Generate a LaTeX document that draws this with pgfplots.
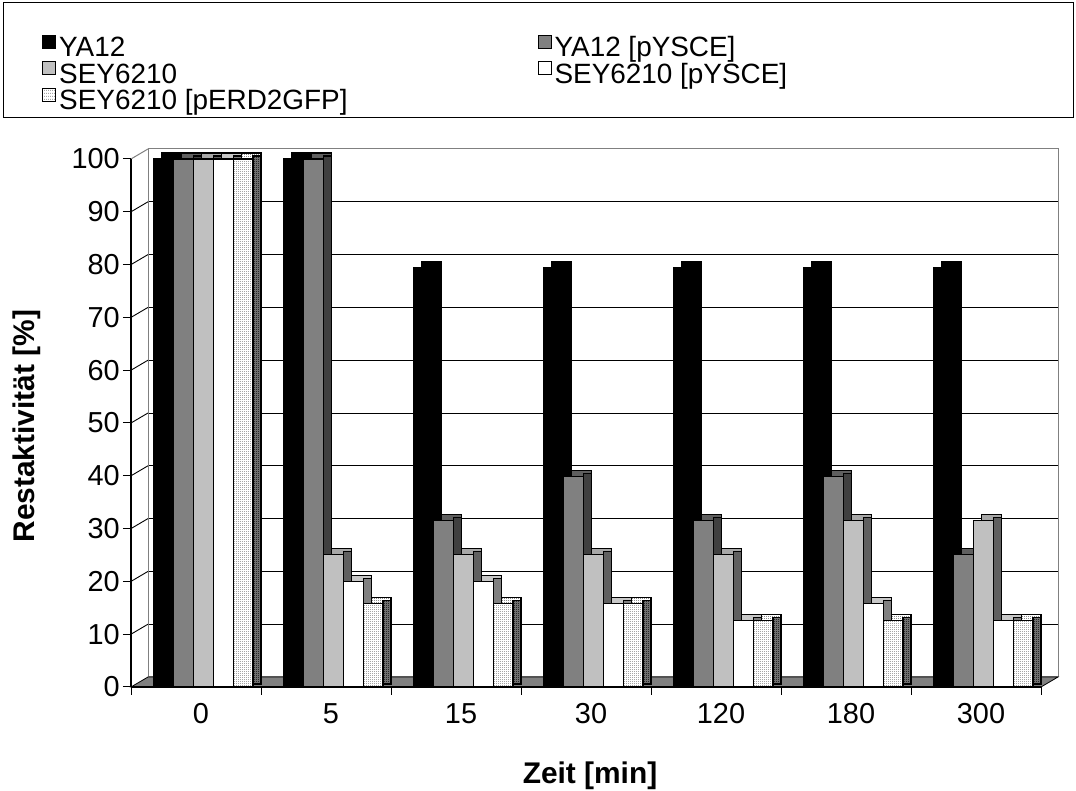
\documentclass[border=0pt]{standalone}
\usepackage{fontspec}
\setmainfont{Liberation Sans}
\usepackage{pgfplots}
\pgfplotsset{compat=1.18}
\usepackage{pgfplotstable}
\usetikzlibrary{patterns}
\definecolor{wallgray}{HTML}{808080}
\definecolor{floorgray}{HTML}{808080}
\definecolor{cBf}{HTML}{808080}
\definecolor{cBt}{HTML}{5F5F5F}
\definecolor{cBs}{HTML}{404040}
\definecolor{cCf}{HTML}{C0C0C0}
\definecolor{cCt}{HTML}{A8A8A8}
\definecolor{cCs}{HTML}{606060}
\definecolor{cDt}{HTML}{C8C8C8}
\definecolor{cDs}{HTML}{808080}
\definecolor{cEs}{HTML}{707070}

\pgfdeclarepatternformonly{finedots}{\pgfqpoint{0bp}{0bp}}{\pgfqpoint{2.4bp}{2.4bp}}{\pgfqpoint{2.4bp}{2.4bp}}{%
  \pgfpathrectangle{\pgfqpoint{0bp}{0bp}}{\pgfqpoint{1.2bp}{1.2bp}}%
  \pgfusepath{fill}}

\pgfplotstableread{
x s1 s2 s3 s4 s5
0 100 100 100 100 100
1 100 100 25.1 20 15.8
2 79.4 31.6 25.1 20 15.8
3 79.4 39.8 25.1 15.8 15.8
4 79.4 31.6 25.1 12.6 12.6
5 79.4 39.8 31.6 15.8 12.6
6 79.4 25.1 31.6 12.6 12.6
}\datatable

\pgfplotsset{
  mylegend/.style={legend image code/.code={\draw[##1,line width=1bp] (0bp,1bp) rectangle (13bp,14bp);}},
  topface/.style={forget plot, bar width=19.8bp, yshift=6bp, draw=black, line width=1.1bp},
  sideface/.style={forget plot, bar width=8bp, yshift=3bp, draw=black, line width=1.1bp},
  frontface/.style={bar width=19.8bp, draw=black, line width=1.1bp, mylegend},
}

\begin{document}
\begin{tikzpicture}[x=1bp,y=1bp]
\useasboundingbox (0,0) rectangle (1076,791);
\coordinate (B) at (148,114);
\coordinate (F) at (131,104);
% legend frame
\draw[line width=1bp] (3,673) rectangle (1073,788);
% back wall
\begin{axis}[at={(B)}, anchor=south west, scale only axis,
  width=910bp, height=528bp, xmin=-0.5, xmax=6.5, ymin=0, ymax=100,
  xtick=\empty, ytick={10,20,...,90}, yticklabels={}, major tick length=0pt,
  ymajorgrids, grid style={black, line width=0.9bp},
  axis line style={draw=wallgray, line width=1bp}]
\end{axis}
% left wall diagonals
\foreach \v in {10,20,...,90} \draw[black, line width=0.9bp] (131,{104+5.28*\v}) -- ++(17,10);
\draw[wallgray, line width=1bp] (131,632) -- (148,642);
% floor
\fill[floorgray, draw=black, line width=0.8bp] (131,104) -- (1041,104) -- (1058,114) -- (148,114) -- cycle;
% front axis with bars
\begin{axis}[at={(F)}, anchor=south west, scale only axis,
  width=910bp, height=528bp, xmin=-0.5, xmax=6.5, ymin=0, ymax=100,
  clip=false, ybar,
  axis lines*=left, axis line style={black, line width=1.2bp},
  /pgf/number format/assume math mode=true,
  xtick={-0.5,0.5,1.5,2.5,3.5,4.5,5.5,6.5}, xticklabels={},
  extra x ticks={0,1,2,3,4,5,6},
  extra x tick labels={0,5,15,30,120,180,300},
  extra x tick style={major tick length=0pt},
  ytick={0,10,...,100},
  tick align=outside, major tick length=8bp,
  tick style={black, line width=1bp},
  xticklabel style={font=\fontsize{29}{29}\selectfont, inner sep=0pt, anchor=north, yshift=-16bp, xshift=5bp},
  yticklabel style={font=\fontsize{29}{29}\selectfont, inner sep=0pt, anchor=east, xshift=-3bp},
  xlabel={Zeit [min]}, ylabel={Restaktivität [\%]},
  every axis x label/.style={at={(axis description cs:0.5044,-0.1837)}, anchor=base, font=\bfseries\fontsize{30}{30}\selectfont},
  every axis y label/.style={at={(axis description cs:-0.1055,0.494)}, rotate=90, anchor=base, font=\bfseries\fontsize{30}{30}\selectfont},
  legend columns=2, legend cell align=left,
  legend style={at={(-0.0978,1.2348)}, anchor=north west, draw=none, fill=none,
    inner sep=0pt, font=\fontsize{28}{28}\selectfont, row sep=-1bp,
    nodes={inner sep=0pt, text height=20bp, text depth=5.5bp},
    /tikz/every odd column/.append style={column sep=3bp},
    /tikz/every even column/.append style={column sep=190bp}},
]
% series 1
\addplot[topface, bar shift=-24.1bp, fill=black] table[x=x,y=s1] {\datatable};
\addplot[sideface, bar shift=-18.2bp, fill=black] table[x=x,y=s1] {\datatable};
\addplot[frontface, bar shift=-32.1bp, fill=black] table[x=x,y=s1] {\datatable};
\addlegendentry{YA12}
% series 2
\addplot[topface, bar shift=-4.3bp, fill=cBt] table[x=x,y=s2] {\datatable};
\addplot[sideface, bar shift=1.6bp, fill=cBs] table[x=x,y=s2] {\datatable};
\addplot[frontface, bar shift=-12.3bp, fill=cBf] table[x=x,y=s2] {\datatable};
\addlegendentry{YA12 [pYSCE]}
% series 3
\addplot[topface, bar shift=15.5bp, fill=cCt] table[x=x,y=s3] {\datatable};
\addplot[sideface, bar shift=21.4bp, fill=cCs] table[x=x,y=s3] {\datatable};
\addplot[frontface, bar shift=7.5bp, fill=cCf] table[x=x,y=s3] {\datatable};
\addlegendentry{SEY6210}
% series 4
\addplot[topface, bar shift=35.3bp, fill=cDt] table[x=x,y=s4] {\datatable};
\addplot[sideface, bar shift=41.2bp, fill=cDs] table[x=x,y=s4] {\datatable};
\addplot[frontface, bar shift=27.3bp, fill=white] table[x=x,y=s4] {\datatable};
\addlegendentry{SEY6210 [pYSCE]}
% series 5
\addplot[topface, bar shift=55.1bp, fill=white, postaction={pattern=finedots, pattern color=black!45}] table[x=x,y=s5] {\datatable};
\addplot[sideface, bar shift=61bp, fill=cEs, postaction={pattern=finedots, pattern color=black!85}] table[x=x,y=s5] {\datatable};
\addplot[frontface, bar shift=47.1bp, fill=white, postaction={pattern=finedots, pattern color=black!35}] table[x=x,y=s5] {\datatable};
\addlegendentry{SEY6210 [pERD2GFP]}
\end{axis}
\end{tikzpicture}
\end{document}
